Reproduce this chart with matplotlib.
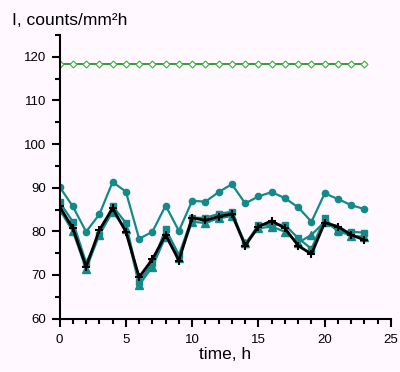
import matplotlib
matplotlib.use('Agg')
import matplotlib.pyplot as plt
from matplotlib.ticker import MultipleLocator

hours = list(range(24))

reference = [118.3] * 24
circles = [90.2, 85.7, 79.9, 83.9, 91.3, 89.1, 78.3, 79.9, 85.9, 80.1, 87.0, 86.8,
           89.0, 90.8, 86.4, 88.0, 89.0, 87.6, 85.5, 82.2, 88.7, 87.4, 86.0, 85.1]
squares = [86.7, 82.2, 72.8, 79.2, 85.8, 81.9, 68.5, 72.7, 80.5, 74.6, 83.1, 83.1,
           84.0, 84.5, 77.0, 81.5, 81.5, 81.5, 78.4, 76.0, 83.0, 79.9, 79.9, 79.7]
triangles = [85.0, 80.0, 71.4, 79.2, 84.5, 80.5, 67.7, 71.9, 78.8, 74.0, 82.2, 81.9,
             83.0, 83.5, 77.3, 80.7, 81.1, 79.9, 77.4, 79.2, 82.2, 80.2, 78.9, 78.8]
crosses = [85.7, 80.7, 71.9, 80.3, 85.3, 79.9, 69.5, 73.6, 79.2, 73.3, 83.1, 82.5,
           83.4, 84.0, 76.7, 81.1, 82.4, 80.7, 76.7, 74.8, 82.0, 81.1, 79.2, 78.0]

teal = '#138a8a'
bg = '#fff9ff'

plt.rcParams['font.family'] = ['Liberation Sans', 'DejaVu Sans']

fig = plt.figure(figsize=(4, 3.72), dpi=100, facecolor=bg)
ax = fig.add_axes([0.149, 0.1435, 0.8285, 0.7625], facecolor=bg)

ax.plot(hours, reference, color='#2a8f2a', lw=1.3, marker='D', ms=3.5,
        mfc='white', mec='#4fb04f', mew=0.9)
ax.plot(hours, circles, color=teal, lw=1.6, marker='o', ms=4.5, mec=teal)
ax.plot(hours, squares, color=teal, lw=1.6, marker='s', ms=5, mec=teal)
ax.plot(hours, triangles, color=teal, lw=1.6, marker='^', ms=5.5, mec=teal)
ax.plot(hours, crosses, color='black', lw=2, marker='+', ms=6, mew=1.5)

ax.set_xlim(0, 25)
ax.set_ylim(60, 125)
ax.xaxis.set_major_locator(MultipleLocator(5))
ax.xaxis.set_minor_locator(MultipleLocator(1))
ax.yaxis.set_minor_locator(MultipleLocator(5))
ax.set_yticks([60, 70, 80, 90, 100, 110, 120])

for s in ['top', 'right']:
    ax.spines[s].set_visible(False)
for s in ['left', 'bottom']:
    ax.spines[s].set_linewidth(1.5)

ax.tick_params(which='major', length=6, width=1.5, labelsize=9.5, direction='out')
ax.tick_params(which='minor', length=3.5, width=1.5, direction='out')
ax.tick_params(axis='x', pad=5)

fig.text(0.03, 0.945, 'I, counts/mm\u00b2h', fontsize=12.5, va='center', ha='left')
ax.set_xlabel('time, h', fontsize=12.5, labelpad=1)

fig.savefig('out.png', dpi=100, facecolor=bg)
